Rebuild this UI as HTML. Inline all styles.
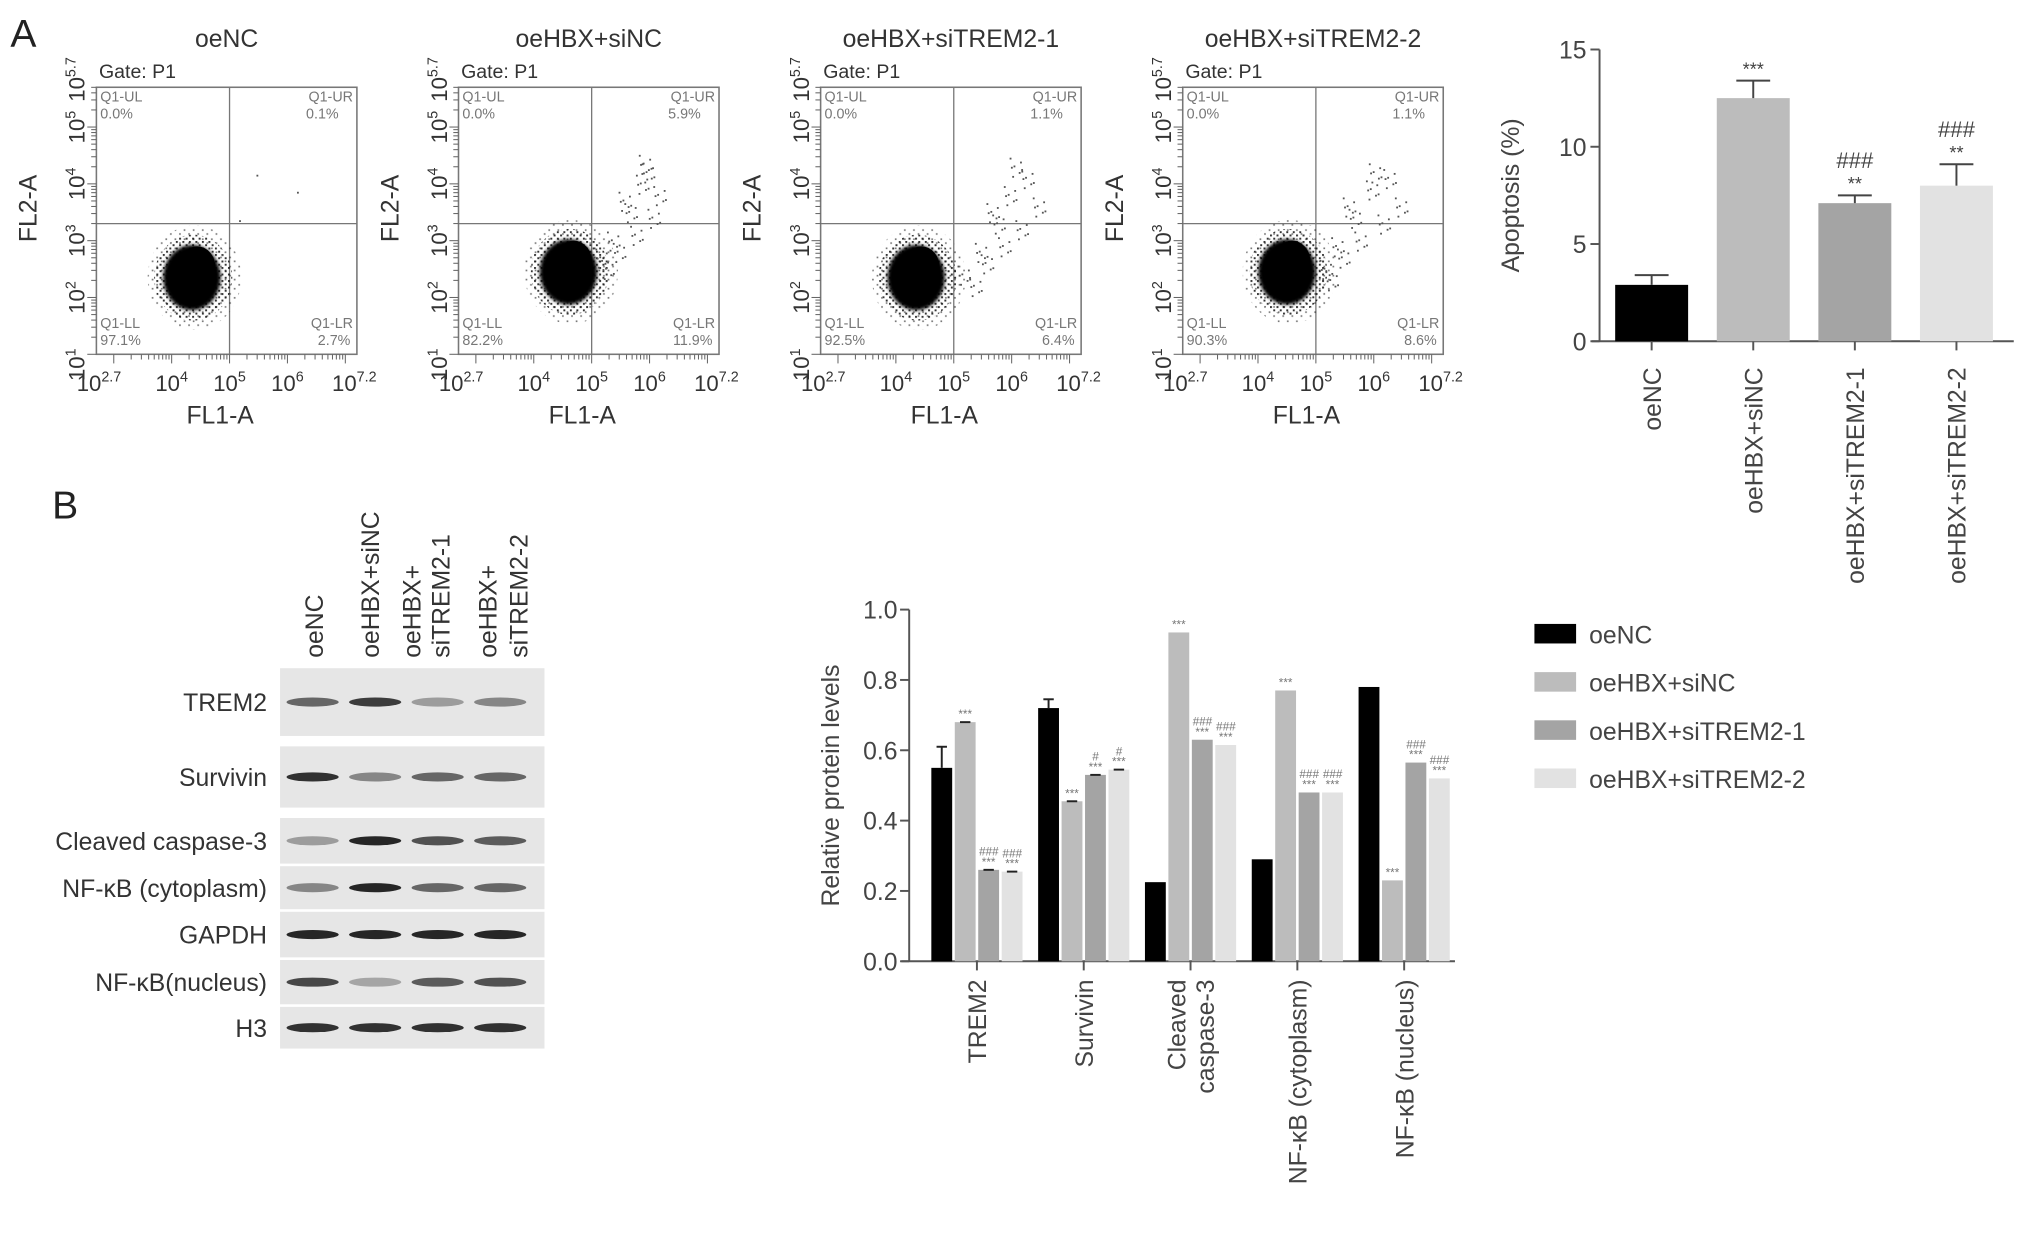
<!DOCTYPE html>
<html><head><meta charset="utf-8"><style>
html,body{margin:0;padding:0;background:#fff}
svg{display:block}
text{font-family:"Liberation Sans",Arial,sans-serif}
</style></head><body>
<svg id="fig" width="2032" height="1233" viewBox="0 0 1560 946.6" xmlns="http://www.w3.org/2000/svg">
<defs>
<pattern id="speck" width="5" height="5" patternUnits="userSpaceOnUse">
<rect x="0" y="0" width="1.5" height="1.5" fill="#111"/><rect x="2.5" y="2.5" width="1.5" height="1.5" fill="#111"/>
</pattern>
<pattern id="speck2" width="7" height="7" patternUnits="userSpaceOnUse">
<rect x="1" y="1" width="1.3" height="1.3" fill="#222"/><rect x="4.5" y="4" width="1.3" height="1.3" fill="#222"/>
</pattern>
<filter id="soft"><feGaussianBlur stdDeviation="1.5"/></filter>
</defs>
<text x="8" y="36" font-size="30" fill="#222">A</text>
<text x="40" y="398" font-size="30" fill="#222">B</text>
<g id="flow"></g><g id="apop"></g><g id="blot"></g><g id="prot"></g>
</svg>
<script>
// ---------- data ----------
const flowTitles=["oeNC","oeHBX+siNC","oeHBX+siTREM2-1","oeHBX+siTREM2-2"];
const flowUL=["0.0%","0.0%","0.0%","0.0%"];
const flowUR=["0.1%","5.9%","1.1%","1.1%"];
const flowLL=["97.1%","82.2%","92.5%","90.3%"];
const flowLR=["2.7%","11.9%","6.4%","8.6%"];
const blobX=[4.35,4.6,4.35,4.5];
const blobY=[2.35,2.45,2.35,2.45];
const tailX=[[5.3,5.6,6.3,5.0],[5.2,5.4,5.7,5.9,6.0,6.2,5.8,5.5,6.1,5.3,5.6,5.95],[5.2,5.5,5.8,6.0,6.3,6.5,5.9,5.6,6.2,5.4,5.7,6.1],[5.2,5.4,5.7,6.0,6.3,6.5,5.8,5.5,6.2,5.3,5.6,6.05]];
const tailY=[[3.2,4.0,3.7,2.6],[2.7,3.0,3.5,4.0,4.2,3.8,3.1,2.8,3.4,2.5,3.7,4.35],[2.4,2.8,3.3,3.8,4.1,3.6,2.9,2.6,3.2,2.2,3.5,4.3],[2.5,2.9,3.4,3.9,4.1,3.6,3.0,2.7,3.3,2.3,3.6,4.2]];

const apopCats=["oeNC","oeHBX+siNC","oeHBX+siTREM2-1","oeHBX+siTREM2-2"];
const apopVals=[2.9,12.5,7.1,8.0];
const apopErr=[0.5,0.9,0.4,1.1];
const apopStar=["","***","**","**"];
const apopHash=["","","###","###"];
const apopTicks=[0,5,10,15];

const protCats=[["TREM2"],["Survivin"],["Cleaved","caspase-3"],["NF-κB (cytoplasm)"],["NF-κB (nucleus)"]];
const sOeNC=[0.55,0.72,0.225,0.29,0.78];
const sSiNC=[0.68,0.455,0.935,0.77,0.23];
const sSi1=[0.26,0.53,0.63,0.48,0.565];
const sSi2=[0.255,0.545,0.615,0.48,0.52];
const errOeNC=[0.06,0.025,0,0,0];
const protTicks=[0.0,0.2,0.4,0.6,0.8,1.0];
const seriesNames=["oeNC","oeHBX+siNC","oeHBX+siTREM2-1","oeHBX+siTREM2-2"];
const colors=["#000000","#bcbcbc","#a4a4a4","#e2e2e2"];
const annStar=[["","***","***","***"],["","***","***","***"],["","***","***","***"],["","***","***","***"],["","***","***","***"]];
const annHash=[["","","###","###"],["","","#","#"],["","","###","###"],["","","###","###"],["","","###","###"]];

const blotRows=["TREM2","Survivin","Cleaved caspase-3","NF-κB (cytoplasm)","GAPDH","NF-κB(nucleus)","H3"];
const blotIntensity=[[0.6,0.8,0.35,0.45],[0.85,0.45,0.6,0.6],[0.35,0.9,0.7,0.65],[0.45,0.9,0.6,0.6],[0.9,0.9,0.9,0.9],[0.75,0.3,0.65,0.7],[0.85,0.85,0.85,0.85]];

// ---------- helpers ----------
const NS="http://www.w3.org/2000/svg";
function el(tag,attrs,parent,txt){const e=document.createElementNS(NS,tag);for(const k in attrs)e.setAttribute(k,attrs[k]);if(txt!==undefined)e.textContent=txt;parent.appendChild(e);return e;}

// ---------- flow plots ----------
const flow=document.getElementById('flow');
const lefts=[74,352,630,908];
const BT=67,BB=272,BW=200;
flowTitles.forEach((t,i)=>{
  const L=lefts[i];
  const g=el('g',{},flow);
  
  
  const fx=v=>L+(v-2.7)/(7.2-2.7)*BW;
  const fy=v=>BB-(v-1)/(5.7-1)*(BB-BT);
  let e=el('text',{x:L+100,y:36,'font-size':19,'text-anchor':'middle',fill:'#333'},g,t);
  
  e=el('text',{x:L+2,y:60,'font-size':15,fill:'#333'},g,'Gate: P1');
  
  el('rect',{x:L,y:BT,width:BW,height:BB-BT,fill:'none',stroke:'#777','stroke-width':1.2},g);
  el('line',{x1:fx(5),x2:fx(5),y1:BT,y2:BB,stroke:'#777','stroke-width':1},g);
  el('line',{x1:L,x2:L+BW,y1:fy(3.3),y2:fy(3.3),stroke:'#777','stroke-width':1},g);
  for(let d=3;d<=7;d++)for(let m=1;m<10;m++){const v=d+Math.log10(m);if(v<2.7||v>7.2)continue;const x=fx(v);el('line',{x1:x,x2:x,y1:BB,y2:BB+(m==1?7:4),stroke:'#666','stroke-width':0.8},g);}
  for(let d=1;d<=5;d++)for(let m=1;m<10;m++){const v=d+Math.log10(m);if(v>5.7)continue;const y=fy(v);el('line',{x1:L,x2:L-(m==1?7:4),y1:y,y2:y,stroke:'#666','stroke-width':0.8},g);}
  const qs={'font-size':11,fill:'#777'};
  el('text',Object.assign({x:L+3,y:BT+11},qs),g,'Q1-UL');
  el('text',Object.assign({x:L+3,y:BT+24},qs),g,flowUL[i]);
  el('text',Object.assign({x:L+BW-3,y:BT+11,'text-anchor':'end'},qs),g,'Q1-UR');
  el('text',Object.assign({x:L+BW-14,y:BT+24,'text-anchor':'end'},qs),g,flowUR[i]);
  el('text',Object.assign({x:L+3,y:BB-20},qs),g,'Q1-LL');
  el('text',Object.assign({x:L+3,y:BB-7},qs),g,flowLL[i]);
  el('text',Object.assign({x:L+BW-3,y:BB-20,'text-anchor':'end'},qs),g,'Q1-LR');
  el('text',Object.assign({x:L+BW-5,y:BB-7,'text-anchor':'end'},qs),g,flowLR[i]);
  // blob
  const cx=fx(blobX[i]),cy=fy(blobY[i]);
  const b=el('g',{},g);
  
  el('ellipse',{cx:cx+2,cy:cy,rx:36,ry:40,fill:'url(#speck2)',opacity:0.6},b);
  el('ellipse',{cx:cx+1,cy:cy,rx:30,ry:33,fill:'url(#speck)',opacity:0.85},b);
  el('ellipse',{cx:cx,cy:cy,rx:22,ry:25,fill:'#000',filter:'url(#soft)'},b);
  el('ellipse',{cx:cx+4,cy:cy-8,rx:14,ry:16,fill:'#000'},b);
  tailX[i].forEach((v,j)=>{const px=fx(v),py=fy(tailY[i][j]);
    for(let k=0;k<(i==0?1:7);k++){el('rect',{x:px+((k*7)%13)-6,y:py+((k*11)%15)-7,width:1.4,height:1.4,fill:'#555'},g);}
  });
  const sup=(parent,x,y,b,s,anchor,rot)=>{const tt=el('text',{x:x,y:y,'font-size':17,fill:'#333','text-anchor':anchor||'middle',transform:rot?`rotate(-90 ${x} ${y})`:''},parent);
    el('tspan',{},tt,b);el('tspan',{dy:-7,'font-size':11},tt,s);return tt;};
  [[2.7,'2.7'],[4,'4'],[5,'5'],[6,'6'],[7.2,'7.2']].forEach(([v,s])=>{sup(g,fx(v)+(v==2.7?2:v==7.2?-2:0),BB+28,'10',s);});
  [[1,'1'],[2,'2'],[3,'3'],[4,'4'],[5,'5'],[5.7,'5.7']].forEach(([v,s])=>{sup(g,L-9,fy(v)+(v==1?8:v==5.7?-6:0),'10',s,'middle',true);});
  e=el('text',{x:L+95,y:325,'font-size':19,'text-anchor':'middle',fill:'#333'},g,'FL1-A');
  
  e=el('text',{x:L-46,y:160,'font-size':19,'text-anchor':'middle',fill:'#333',transform:`rotate(-90 ${L-46} 160)`},g,'FL2-A');
  
});

// ---------- apoptosis chart ----------
const ap=document.getElementById('apop');
const aX0=1228,aY0=262,aY1=38,aMax=15;
const ay=v=>aY0-v/aMax*(aY0-aY1);
const aBand=78,aFirst=1240,aBW=56;
el('line',{x1:aX0,x2:aX0,y1:aY1,y2:aY0,stroke:'#555','stroke-width':1.5},ap);
el('line',{x1:aX0-6,x2:1546,y1:aY0,y2:aY0,stroke:'#555','stroke-width':1.5},ap);
apopTicks.forEach(t=>{el('line',{x1:aX0-7,x2:aX0,y1:ay(t),y2:ay(t),stroke:'#555','stroke-width':1.5},ap);
  el('text',{x:aX0-10,y:ay(t)+7,'font-size':19,'text-anchor':'end',fill:'#444'},ap,String(t));});
let at=el('text',{x:1166,y:150,'font-size':19,'text-anchor':'middle',fill:'#444',transform:'rotate(-90 1166 150)'},ap,'Apoptosis (%)');

apopVals.forEach((v,i)=>{const x=aFirst+i*aBand,cx=x+aBW/2;
  const r=el('rect',{x:x,y:ay(v),width:aBW,height:aY0-ay(v),fill:colors[i]},ap);
  
  const te=ay(v+apopErr[i]);
  el('line',{x1:cx,x2:cx,y1:ay(v),y2:te,stroke:'#444','stroke-width':1.5},ap);
  el('line',{x1:cx-13,x2:cx+13,y1:te,y2:te,stroke:'#444','stroke-width':1.5},ap);
  el('line',{x1:cx,x2:cx,y1:aY0,y2:aY0+7,stroke:'#555','stroke-width':1.5},ap);
  if(apopStar[i])el('text',{x:cx,y:te-4,'font-size':14,'text-anchor':'middle',fill:'#444'},ap,apopStar[i]);
  if(apopHash[i])el('text',{x:cx,y:te-21,'font-size':17,'text-anchor':'middle',fill:'#444'},ap,apopHash[i]);
  el('text',{x:cx+7,y:282,'font-size':19,'text-anchor':'end',fill:'#444',transform:`rotate(-90 ${cx+7} 282)`},ap,apopCats[i]);
});

// ---------- western blot ----------
const bl=document.getElementById('blot');
const rowY=[[513,565],[573,620],[628,663],[665,698],[700,735],[737,771],[773,805]];
const laneX=[240,288,336,384];
blotRows.forEach((n,i)=>{const [y1,y2]=rowY[i];
  const r=el('rect',{x:215,y:y1,width:203,height:y2-y1,fill:'#e6e6e6'},bl);
  
  const t=el('text',{x:205,y:(y1+y2)/2+7,'font-size':19,'text-anchor':'end',fill:'#333'},bl,n);
  
  blotIntensity[i].forEach((a,j)=>{el('ellipse',{cx:laneX[j],cy:(y1+y2)/2,rx:20,ry:3.5,fill:'#111',opacity:a},bl);});
});
[['oeNC',248],['oeHBX+siNC',291],['oeHBX+',323],['siTREM2-1',345],['oeHBX+',381],['siTREM2-2',405]].forEach(([s,x])=>{
  el('text',{x:x,y:505,'font-size':19,fill:'#333',transform:`rotate(-90 ${x} 505)`},bl,s);});

// ---------- protein chart ----------
const pr=document.getElementById('prot');
const pX0=698,pY0=738,pY1=468;
const pyy=v=>pY0-v*(pY0-pY1);
const gStart=715,gStep=82,bW=16,bGap=2;
el('line',{x1:pX0,x2:pX0,y1:pY1,y2:pY0,stroke:'#555','stroke-width':1.5},pr);
el('line',{x1:pX0-6,x2:1117,y1:pY0,y2:pY0,stroke:'#555','stroke-width':1.5},pr);
protTicks.forEach(t=>{el('line',{x1:pX0-7,x2:pX0,y1:pyy(t),y2:pyy(t),stroke:'#555','stroke-width':1.5},pr);
  el('text',{x:pX0-9,y:pyy(t)+7,'font-size':19,'text-anchor':'end',fill:'#444'},pr,t.toFixed(1));});
let pt=el('text',{x:644,y:603,'font-size':19,'text-anchor':'middle',fill:'#444',transform:'rotate(-90 644 603)'},pr,'Relative protein levels');

const allS=[sOeNC,sSiNC,sSi1,sSi2];
protCats.forEach((c,gi)=>{const gx=gStart+gi*gStep;const center=gx+2*(bW+bGap)-bGap/2;
  el('line',{x1:center,x2:center,y1:pY0,y2:pY0+7,stroke:'#555','stroke-width':1.5},pr);
  allS.forEach((s,si)=>{const x=gx+si*(bW+bGap),v=s[gi];
    const r=el('rect',{x:x,y:pyy(v),width:bW,height:pY0-pyy(v),fill:colors[si]},pr);
    
    const cx=x+bW/2;
    if(si==0&&errOeNC[gi]>0){const te=pyy(v+errOeNC[gi]);el('line',{x1:cx,x2:cx,y1:pyy(v),y2:te,stroke:'#222','stroke-width':1.5},pr);el('line',{x1:cx-4,x2:cx+4,y1:te,y2:te,stroke:'#222','stroke-width':1.5},pr);}
    if(si>0&&gi<2){el('line',{x1:cx-4,x2:cx+4,y1:pyy(v),y2:pyy(v),stroke:'#222','stroke-width':1.5},pr);}
    if(annStar[gi][si])el('text',{x:cx,y:pyy(v)-3,'font-size':9,'text-anchor':'middle',fill:'#777'},pr,annStar[gi][si]);
    if(annHash[gi][si])el('text',{x:cx,y:pyy(v)-11,'font-size':9,'text-anchor':'middle',fill:'#777','font-style':'italic'},pr,annHash[gi][si]);
  });
  c.forEach((line,li)=>{const x=center+7+(li-(c.length-1)/2)*22;
    el('text',{x:x,y:752,'font-size':19,'text-anchor':'end',fill:'#444',transform:`rotate(-90 ${x} 752)`},pr,line);});
});
seriesNames.forEach((n,i)=>{const y=479+i*37;
  const r=el('rect',{x:1178,y:y,width:32,height:15,fill:colors[i]},pr);
  
  const t=el('text',{x:1220,y:y+15,'font-size':19,fill:'#444'},pr,n);
  
});
</script>
</body></html>
